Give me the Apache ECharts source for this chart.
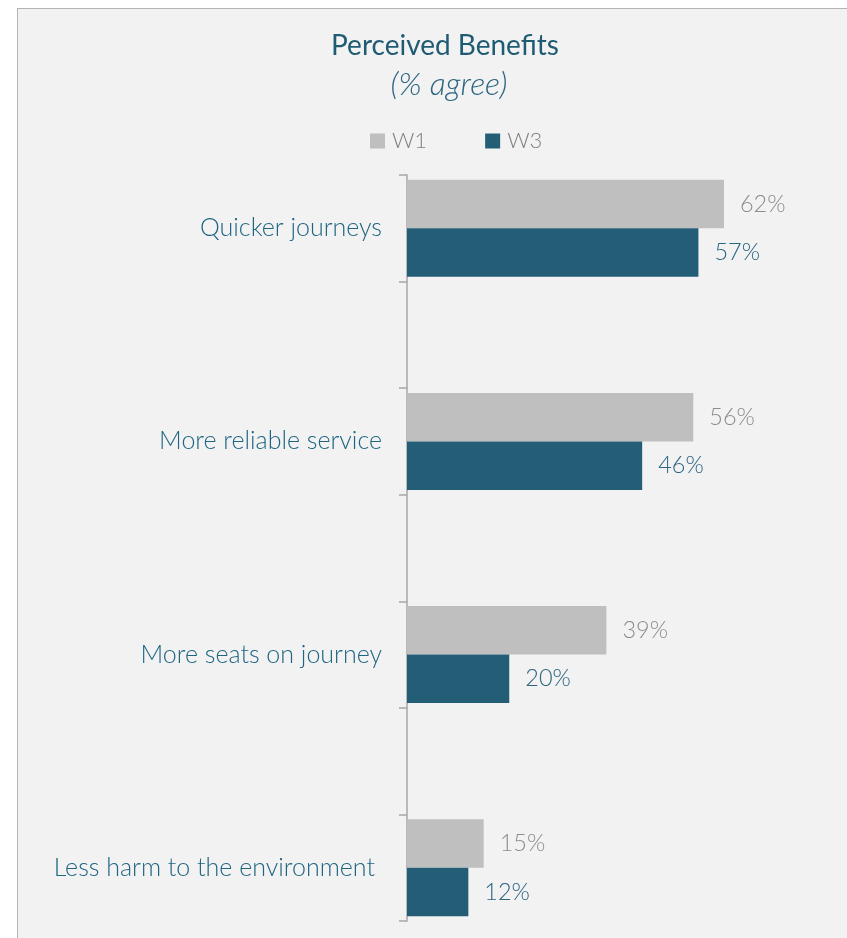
<!DOCTYPE html>
<html>
<head>
<meta charset="utf-8">
<script src="https://cdn.jsdelivr.net/npm/echarts@6/dist/echarts.min.js"></script>
<style>
  html, body { margin: 0; padding: 0; background: #ffffff; overflow: hidden; }
  #panel {
    position: absolute; left: 17px; top: 8px; width: 840px; height: 940px;
    background: #f2f2f2; border-left: 1.5px solid #b4b4b4; border-top: 1.5px solid #b4b4b4;
  }
  #chart { position: absolute; left: 0; top: 0; width: 847px; height: 938px; }
</style>
</head>
<body>
<div id="panel"></div>
<div id="chart"></div>
<script>
// Benefits asked about, top to bottom
const categories = ['Quicker journeys', 'More reliable service', 'More seats on journey', 'Less harm to the environment'];
// Share agreeing (%) per wave
const w1Values = [62, 56, 39, 15];
const w3Values = [57, 46, 20, 12];
const seriesNames = ['W1', 'W3'];

const FONT = 'Lato, "Open Sans", sans-serif';
const TEAL = '#245e76';
const GREY = '#bfbfbf';

// Each benefit is followed by an empty spacer row so the groups sit apart
const rows = [], w1Rows = [], w3Rows = [];
categories.forEach((c, i) => {
  rows.push(c); w1Rows.push(w1Values[i]); w3Rows.push(w3Values[i]);
  if (i < categories.length - 1) { rows.push(''); w1Rows.push('-'); w3Rows.push('-'); }
});
const lastCategory = categories[categories.length - 1];

const chart = echarts.init(document.getElementById('chart'), null, { renderer: 'canvas' });

const labelStyle = (color) => ({
  show: true, position: 'right', distance: 16,
  formatter: '{c}%', fontFamily: FONT, fontSize: 23.5, fontWeight: 300, color: color
});

chart.setOption({
  backgroundColor: 'transparent',
  animation: false,
  title: [
    { text: 'Perceived Benefits', left: 440, top: 27, textAlign: 'center',
      textStyle: { fontFamily: FONT, fontSize: 28, fontWeight: 'normal', color: '#1f5b73' } },
    { text: '(% agree)', left: 444, top: 64, textAlign: 'center',
      textStyle: { fontFamily: FONT, fontSize: 32, fontStyle: 'italic', fontWeight: 300, color: '#2b6580' } }
  ],
  legend: {
    data: seriesNames, left: 370, top: 130, padding: 0, icon: 'rect',
    itemWidth: 15, itemHeight: 15, itemGap: 58,
    textStyle: { fontFamily: FONT, fontSize: 22, fontWeight: 300, color: '#808080', padding: [0, 0, 0, 2] }
  },
  grid: { left: 407, top: 175, right: 31, height: 746, containLabel: false },
  xAxis: { type: 'value', min: 0, max: 80, show: false },
  yAxis: {
    type: 'category', data: rows, inverse: true,
    axisLine: { show: true, lineStyle: { color: '#a6a6a6', width: 1.5 } },
    axisTick: { show: true, length: 8, lineStyle: { color: '#a6a6a6', width: 1.5 } },
    axisLabel: {
      margin: 25, fontFamily: FONT, fontSize: 25, fontWeight: 300, color: '#1f6582',
      formatter: (v) => (v === lastCategory ? '{last|' + v + '}' : v),
      rich: { last: { fontFamily: FONT, fontSize: 25, fontWeight: 300, color: '#1f6582', padding: [0, 7, 0, 0] } }
    },
    splitLine: { show: false }
  },
  series: [
    { name: seriesNames[0], type: 'bar', data: w1Rows, barGap: 0, barCategoryGap: '9%',
      itemStyle: { color: GREY }, label: labelStyle('#8c8c8c') },
    { name: seriesNames[1], type: 'bar', data: w3Rows, barGap: 0, barCategoryGap: '9%',
      itemStyle: { color: TEAL }, label: labelStyle('#2b6580') }
  ]
});
</script>
</body>
</html>
